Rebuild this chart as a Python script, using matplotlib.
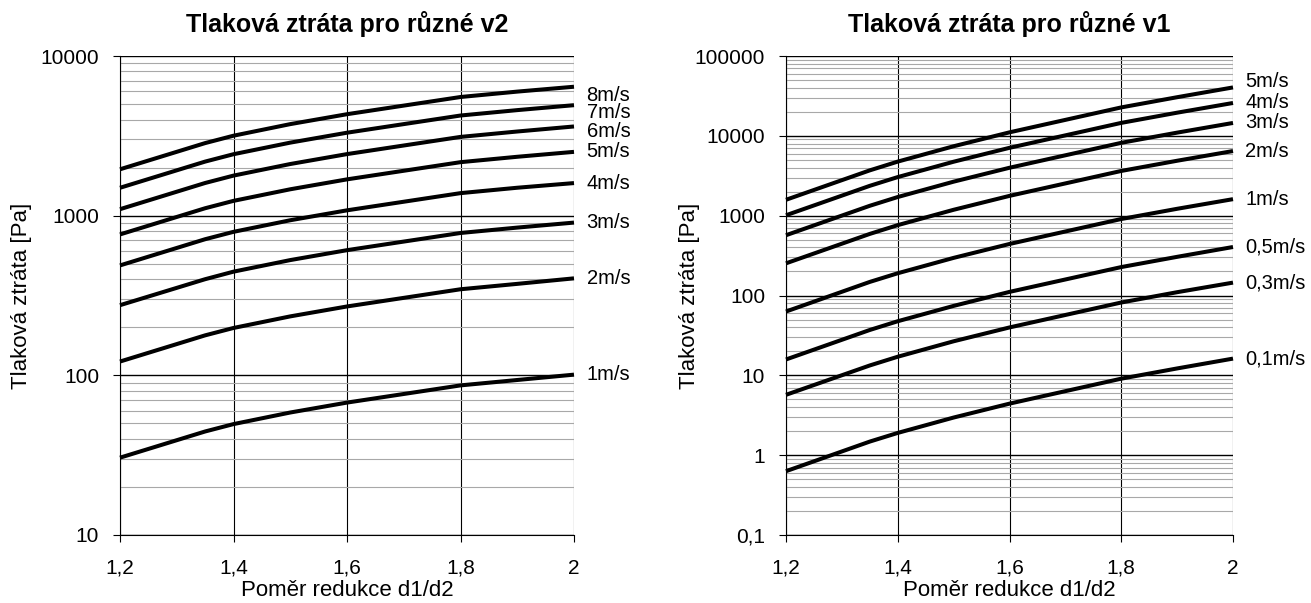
import matplotlib
matplotlib.use("Agg")
import matplotlib.pyplot as plt
from matplotlib.ticker import LogLocator, FixedLocator, FuncFormatter, NullFormatter

plt.rcParams['font.family'] = ['Liberation Sans', 'DejaVu Sans']

# pomer redukce d1/d2
ratio = [1.2, 1.35, 1.4, 1.5, 1.6, 1.8, 1.9, 2.0]

# left chart - tlakova ztrata [Pa] pro ruzne v2
v2_labels = ["1m/s", "2m/s", "3m/s", "4m/s", "5m/s", "6m/s", "7m/s", "8m/s"]
dp_v2_1 = [30.5, 44.5, 49.5, 58.5, 67.5, 86.5, 93.5, 101]
dp_v2_2 = [122, 178, 198, 234, 270, 346, 374, 405]
dp_v2_3 = [275, 400, 446, 527, 608, 779, 842, 905]
dp_v2_4 = [488, 712, 792, 936, 1080, 1384, 1496, 1600]
dp_v2_5 = [763, 1113, 1238, 1463, 1688, 2163, 2338, 2510]
dp_v2_6 = [1098, 1602, 1782, 2106, 2430, 3114, 3366, 3620]
dp_v2_7 = [1495, 2181, 2426, 2867, 3308, 4239, 4582, 4920]
dp_v2_8 = [1952, 2848, 3168, 3744, 4320, 5536, 5984, 6420]
v2_series = [dp_v2_1, dp_v2_2, dp_v2_3, dp_v2_4, dp_v2_5, dp_v2_6, dp_v2_7, dp_v2_8]
v2_label_shift = [0, 0, 0, 0, 0, -3.5, -5, -6]

# right chart - tlakova ztrata [Pa] pro ruzne v1
v1_labels = ["0,1m/s", "0,3m/s", "0,5m/s", "1m/s", "2m/s", "3m/s", "4m/s", "5m/s"]
dp_v1_01 = [0.63, 1.48, 1.9, 2.96, 4.42, 9.08, 12.2, 16.2]
dp_v1_03 = [5.7, 13.3, 17.1, 26.7, 39.8, 81.7, 110, 145]
dp_v1_05 = [15.8, 37, 47.6, 74.1, 111, 227, 305, 405]
dp_v1_1 = [63, 148, 190, 296, 442, 908, 1219, 1610]
dp_v1_2 = [253, 591, 761, 1185, 1770, 3632, 4874, 6450]
dp_v1_3 = [569, 1330, 1712, 2666, 3982, 8172, 10967, 14500]
dp_v1_4 = [1012, 2365, 3043, 4739, 7078, 14528, 19497, 25800]
dp_v1_5 = [1581, 3695, 4755, 7405, 11060, 22700, 30464, 40400]
v1_series = [dp_v1_01, dp_v1_03, dp_v1_05, dp_v1_1, dp_v1_2, dp_v1_3, dp_v1_4, dp_v1_5]
v1_label_shift = [0, 0, 0, 0, 0, 0, 0, 4]


def comma_fmt(val, pos):
    if val >= 1:
        return "%d" % round(val)
    return ("%g" % val).replace(".", ",")


def format_axis(ax, ymin, ymax, title, ylab_x):
    ax.set_yscale('log')
    ax.set_xlim(1.2, 2.0)
    ax.set_ylim(ymin, ymax)
    ax.xaxis.set_major_locator(FixedLocator([1.2, 1.4, 1.6, 1.8, 2.0]))
    ax.xaxis.set_major_formatter(FuncFormatter(lambda v, p: ("%g" % v).replace(".", ",")))
    ax.yaxis.set_major_locator(LogLocator(base=10, numticks=20))
    ax.yaxis.set_minor_locator(LogLocator(base=10, subs=range(2, 10), numticks=20))
    ax.yaxis.set_major_formatter(FuncFormatter(comma_fmt))
    ax.yaxis.set_minor_formatter(NullFormatter())
    ax.grid(True, which='major', axis='y', color='black', linewidth=1.0)
    ax.grid(True, which='minor', axis='y', color='#a8a8a8', linewidth=0.8)
    ax.grid(True, which='major', axis='x', color='black', linewidth=0.8)
    ax.set_axisbelow(True)
    ax.tick_params(axis='both', which='major', direction='out', length=5, width=0.8,
                   labelsize=15)
    ax.tick_params(axis='y', which='major', pad=10)
    ax.tick_params(axis='x', which='major', pad=12)
    ax.tick_params(axis='y', which='minor', length=0)
    for side in ['top', 'right']:
        ax.spines[side].set_visible(False)
    for side in ['left', 'bottom']:
        ax.spines[side].set_linewidth(0.8)
    ax.set_title(title, fontsize=18, fontweight='bold', pad=17)
    ax.set_xlabel("Poměr redukce d1/d2", fontsize=16)
    ax.xaxis.set_label_coords(0.5, -0.138)
    ax.xaxis.label.set_va('bottom')
    ax.set_ylabel("Tlaková ztráta [Pa]", fontsize=16)
    ax.yaxis.set_label_coords(ylab_x, 0.5)
    ax.yaxis.label.set_va('center')


def plot_lines(ax, series, labels, shifts):
    for vals, lab, dy in zip(series, labels, shifts):
        ax.plot(ratio, vals, color='black', linewidth=2.9, solid_capstyle='butt', clip_on=False)
        ax.annotate(lab, xy=(ratio[-1], vals[-1]), xytext=(9, dy), textcoords='offset points',
                    va='center', ha='left', fontsize=14.5, annotation_clip=False)


fig = plt.figure(figsize=(13.11, 6.03), dpi=100)
ax1 = fig.add_axes([120 / 1311, 1 - 535 / 603, 454 / 1311, 479 / 603])
ax2 = fig.add_axes([786 / 1311, 1 - 535 / 603, 447 / 1311, 479 / 603])

format_axis(ax1, 10, 10000, "Tlaková ztráta pro různé v2", -0.218)
plot_lines(ax1, v2_series, v2_labels, v2_label_shift)

format_axis(ax2, 0.1, 100000, "Tlaková ztráta pro různé v1", -0.215)
plot_lines(ax2, v1_series, v1_labels, v1_label_shift)

fig.savefig("out.png", dpi=100)
